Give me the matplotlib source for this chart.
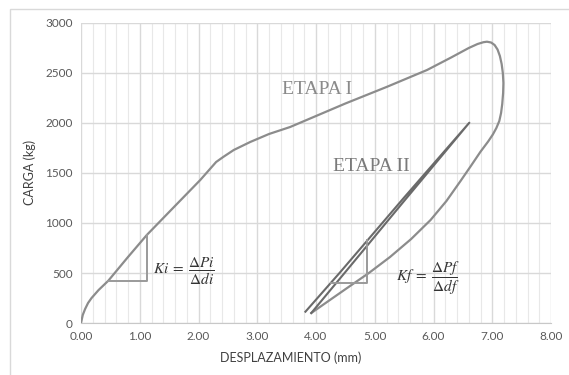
import matplotlib
matplotlib.use("Agg")
import matplotlib.pyplot as plt
from matplotlib.patches import Rectangle

# Load-displacement readings, stage I (loading then unloading)
etapa1_desp = [0.00, 0.03, 0.07, 0.12, 0.18, 0.30, 0.465, 0.80, 1.12, 1.50, 2.03,
               2.30, 2.42, 2.60, 2.88, 3.20, 3.56, 4.00, 4.50, 5.20, 5.89, 6.30,
               6.60, 6.75, 6.85, 6.91, 6.98, 7.04, 7.09, 7.13, 7.16, 7.18, 7.19,
               7.185, 7.17, 7.15, 7.12, 7.07, 7.01, 6.93, 6.80, 6.63, 6.46, 6.22,
               5.95, 5.62, 5.26, 4.90, 4.53, 4.20, 3.92]
etapa1_carga = [0, 80, 140, 200, 250, 330, 423, 660, 880, 1110, 1430,
                1610, 1660, 1730, 1810, 1890, 1960, 2070, 2195, 2360, 2530, 2655,
                2750, 2790, 2808, 2813, 2805, 2780, 2735, 2670, 2590, 2500, 2400,
                2300, 2190, 2100, 2020, 1950, 1885, 1815, 1713, 1565, 1420, 1220,
                1030, 840, 660, 500, 350, 215, 100]

# Stage II: reload and unload
etapa2_desp = [3.92, 4.50, 5.50, 6.61, 5.50, 4.40, 3.82]
etapa2_carga = [100, 510, 1220, 2003, 1255, 500, 113]

# Stiffness triangles: (x0, x1, y0, y1)
tri_ki = (0.465, 1.12, 423, 880)
tri_kf = (4.25, 4.87, 403, 830)

x_ticks = [0, 1, 2, 3, 4, 5, 6, 7, 8]
y_ticks = [0, 500, 1000, 1500, 2000, 2500, 3000]

plt.rcParams["mathtext.fontset"] = "stix"

fig = plt.figure(figsize=(5.69, 3.75), dpi=100)
ax = fig.add_axes([81 / 569, 1 - 323 / 375, 470 / 569, 300 / 375])

# chart frame
fig.patches.append(Rectangle((10 / 569, -0.1), 1.2, 1 - 9 / 375 + 0.1,
                             transform=fig.transFigure, fill=False,
                             edgecolor="#d9d9d9", linewidth=1.0))

ax.set_xlim(0, 8)
ax.set_ylim(0, 3000)
ax.set_xticks(x_ticks)
ax.set_xticklabels([f"{v:.2f}" for v in x_ticks])
ax.set_yticks(y_ticks)
ax.set_xticks([i * 0.2 for i in range(41)], minor=True)

ax.grid(which="major", color="#d9d9d9", linewidth=1.0)
ax.grid(which="minor", axis="x", color="#e8e8e8", linewidth=0.8)
ax.set_axisbelow(True)
for side in ["top", "right", "left"]:
    ax.spines[side].set_visible(False)
ax.spines["bottom"].set_color("#c8c8c8")
ax.tick_params(which="both", length=0, labelsize=8.5, labelcolor="#595959",
               pad=6)
for lbl in ax.get_xticklabels() + ax.get_yticklabels():
    lbl.set_fontfamily("Lato")

ax.plot(etapa1_desp, etapa1_carga, color="#8c8c8c", linewidth=1.6,
        solid_joinstyle="round")
ax.plot(etapa2_desp, etapa2_carga, color="#6a6a6a", linewidth=1.5,
        solid_joinstyle="round")

for x0, x1, y0, y1 in (tri_ki, tri_kf):
    ax.plot([x0, x1, x1], [y0, y0, y1], color="#9a9a9a", linewidth=1.4)

ax.text(4.02, 2330, "ETAPA I", fontfamily="Liberation Serif", fontsize=14,
        color="#8a8a8a", ha="center", va="center")
ax.text(4.94, 1563, "ETAPA II", fontfamily="Liberation Serif", fontsize=14,
        color="#7a7a7a", ha="center", va="center")

ax.text(1.75, 510, r"$Ki\;=\;\dfrac{\Delta Pi}{\Delta di}$", fontsize=11,
        color="#333333", ha="center", va="center")
ax.text(5.90, 450, r"$Kf\;=\;\dfrac{\Delta Pf}{\Delta df}$", fontsize=11,
        color="#333333", ha="center", va="center")

fig.text(291 / 569, 1 - 358 / 375, "DESPLAZAMIENTO (mm)", fontfamily="Lato",
         fontsize=9, color="#404040", ha="center", va="center")
fig.text(30 / 569, 1 - 172 / 375, "CARGA (kg)", fontfamily="Lato",
         fontsize=9, color="#404040", ha="center", va="center",
         rotation=90)

fig.savefig("out.png", dpi=100)
